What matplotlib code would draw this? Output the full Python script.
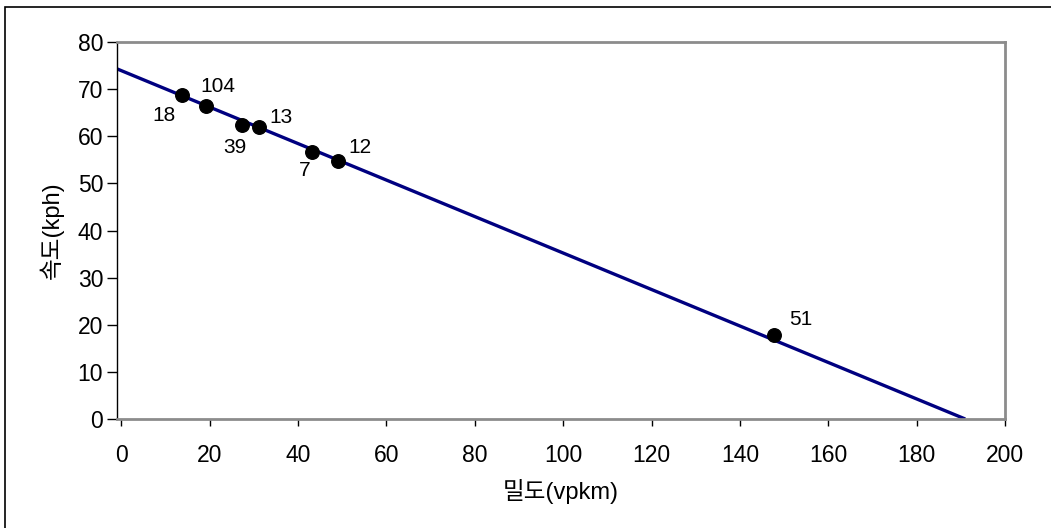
import matplotlib
matplotlib.use("Agg")
import matplotlib.pyplot as plt
from matplotlib.patches import Rectangle

plt.rcParams['font.family'] = ['Liberation Sans', 'Noto Sans CJK KR', 'DejaVu Sans']

# fitted speed-density line
line_density = [-1.0, 191.0]
line_speed = [74.3, 0.0]

# observed points (density vpkm, speed kph) and their labels
obs_density = [13.7, 19.1, 27.2, 31.1, 43.1, 49.0, 147.7]
obs_speed = [68.8, 66.5, 62.4, 61.9, 56.6, 54.8, 17.8]
obs_labels = ["18", "104", "39", "13", "7", "12", "51"]
# label offsets in points (dx, dy)
label_offsets = [(-13, -15), (9, 14), (-5, -16), (16, 7), (-5, -13), (16, 9.5), (19, 11)]

x_ticks = list(range(0, 201, 20))
y_ticks = list(range(0, 81, 10))

fig = plt.figure(figsize=(10.51, 5.28), dpi=100)
ax = fig.add_axes([117 / 1051, 1 - 419 / 528, (1005 - 117) / 1051, (419 - 42) / 528])

ax.plot(line_density, line_speed, color="#000080", lw=2.4, solid_capstyle="butt", zorder=2)
ax.scatter(obs_density, obs_speed, s=95, color="black", zorder=3)
for x, y, t, (dx, dy) in zip(obs_density, obs_speed, obs_labels, label_offsets):
    ax.annotate(t, (x, y), xytext=(dx, dy), textcoords="offset points",
                ha="center", va="center", fontsize=15)

ax.set_xlim(-1, 200)
ax.set_ylim(0, 80)
ax.set_xticks(x_ticks)
ax.set_yticks(y_ticks)
ax.tick_params(axis="both", labelsize=16.5, color="black", direction="out")
ax.tick_params(axis="x", length=5, width=1, pad=13)
ax.tick_params(axis="y", length=7, width=1, pad=3)

for side in ("top", "right", "bottom"):
    ax.spines[side].set_color("#8c8c8c")
    ax.spines[side].set_linewidth(2)
ax.spines["left"].set_color("black")
ax.spines["left"].set_linewidth(1)

ax.set_xlabel("밀도(vpkm)", fontsize=17, labelpad=9)
ax.set_ylabel("속도(kph)", fontsize=17, labelpad=10)

# outer chart frame
fig.patches.append(Rectangle((5 / 1051, -0.1), 1.2, 1 - 7 / 528 + 0.1,
                             transform=fig.transFigure, fill=False,
                             edgecolor="black", lw=1.2))

fig.savefig("out.png", dpi=100)
